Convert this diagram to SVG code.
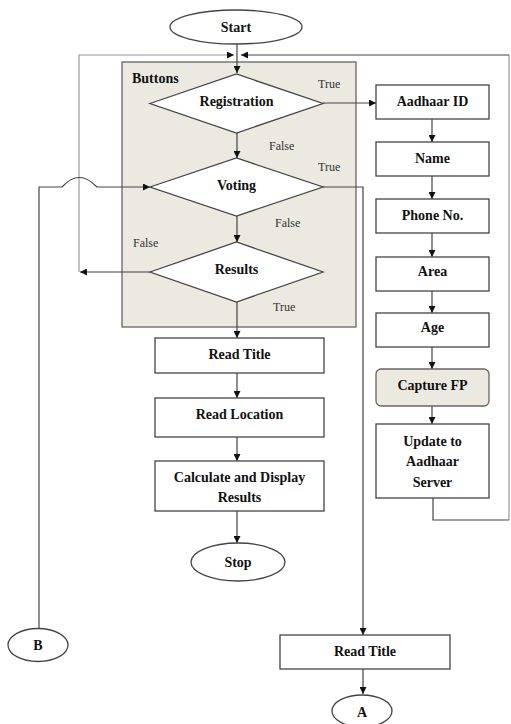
<svg xmlns="http://www.w3.org/2000/svg" width="511" height="724" viewBox="0 0 511 724">
<defs>
<marker id="ah" viewBox="0 0 10 10" refX="10" refY="5" markerWidth="7" markerHeight="7" orient="auto" markerUnits="userSpaceOnUse">
<path d="M0,0 L10,5 L0,10 Z" fill="#111"/>
</marker>
</defs>
<style>
.n{fill:#fff;stroke:#444;stroke-width:1.3}
.g{fill:#ece9e0;stroke:#666;stroke-width:1.3}
.t{font-family:'Liberation Serif','Times New Roman','DejaVu Serif',serif;font-weight:bold;font-size:14px;fill:#111;text-anchor:middle}
.l{font-family:'Liberation Serif','Times New Roman','DejaVu Serif',serif;font-size:12px;fill:#333}
.c{fill:none;stroke:#444;stroke-width:1.2}
.c2{fill:none;stroke:#999;stroke-width:1.2}
</style>
<rect width="511" height="724" fill="#fff"/>
<g id="buttons-box">
<rect x="122" y="62" width="234" height="265" class="g"/>
<text x="132" y="83" class="t" style="text-anchor:start">Buttons</text>
</g>
<g id="connectors">
<line x1="237" y1="44" x2="237" y2="73" class="c" marker-end="url(#ah)"/>
<polyline points="79,272 79,55 234,55" class="c2" marker-end="url(#ah)"/>
<polyline points="509,520 509,55" class="c2"/>
<line x1="509" y1="55" x2="241" y2="55" class="c" marker-end="url(#ah)"/>
<line x1="150" y1="272" x2="80" y2="272" class="c" marker-end="url(#ah)"/>
<line x1="237" y1="133" x2="237" y2="158" class="c" marker-end="url(#ah)"/>
<line x1="237" y1="216" x2="237" y2="242" class="c" marker-end="url(#ah)"/>
<line x1="237" y1="302" x2="237" y2="338" class="c" marker-end="url(#ah)"/>
<line x1="237" y1="373" x2="237" y2="398" class="c" marker-end="url(#ah)"/>
<line x1="237" y1="437" x2="237" y2="461" class="c" marker-end="url(#ah)"/>
<line x1="237" y1="511" x2="237" y2="543" class="c" marker-end="url(#ah)"/>
<line x1="323" y1="103" x2="376" y2="103" class="c" marker-end="url(#ah)"/>
<line x1="432" y1="119" x2="432" y2="142" class="c" marker-end="url(#ah)"/>
<line x1="432" y1="176" x2="432" y2="199" class="c" marker-end="url(#ah)"/>
<line x1="432" y1="233" x2="432" y2="257" class="c" marker-end="url(#ah)"/>
<line x1="432" y1="291" x2="432" y2="313" class="c" marker-end="url(#ah)"/>
<line x1="432" y1="347" x2="432" y2="369" class="c" marker-end="url(#ah)"/>
<line x1="432" y1="406" x2="432" y2="424" class="c" marker-end="url(#ah)"/>
<polyline points="433,498 433,520 509,520" class="c"/>
<polyline points="323,187 363,187 363,635" class="c" marker-end="url(#ah)"/>
<line x1="363" y1="669" x2="363" y2="694" class="c" marker-end="url(#ah)"/>
<path d="M39,628 L39,187 L62,187 Q79,168 97,187 L150,187" class="c" marker-end="url(#ah)"/>
</g>
<g id="start"><ellipse cx="236" cy="27" rx="66" ry="17" class="n"/><text x="236" y="32" class="t">Start</text></g>
<g id="registration"><polygon points="150,103.5 236.5,74 323,103.5 236.5,133" class="n"/><text x="236.5" y="106" class="t">Registration</text></g>
<g id="voting"><polygon points="150,187 236.5,158 323,187 236.5,216" class="n"/><text x="236.5" y="190" class="t">Voting</text></g>
<g id="results"><polygon points="150,272 236.5,242 323,272 236.5,302" class="n"/><text x="236.5" y="274" class="t">Results</text></g>
<g id="labels">
<text x="318" y="88" class="l">True</text>
<text x="269" y="150" class="l">False</text>
<text x="318" y="171" class="l">True</text>
<text x="275" y="227" class="l">False</text>
<text x="133" y="247" class="l">False</text>
<text x="273" y="311" class="l">True</text>
</g>
<g id="aadhaar-id"><rect x="376" y="85" width="113" height="34" class="n"/><text x="432.5" y="106" class="t">Aadhaar ID</text></g>
<g id="name"><rect x="376" y="142" width="113" height="34" class="n"/><text x="432.5" y="163" class="t">Name</text></g>
<g id="phone"><rect x="376" y="199" width="113" height="34" class="n"/><text x="432.5" y="220" class="t">Phone No.</text></g>
<g id="area"><rect x="376" y="257" width="113" height="34" class="n"/><text x="432.5" y="276" class="t">Area</text></g>
<g id="age"><rect x="376" y="313" width="113" height="34" class="n"/><text x="432.5" y="332" class="t">Age</text></g>
<g id="capture-fp"><rect x="376" y="369" width="113" height="37" rx="5" class="g"/><text x="432.5" y="390" class="t">Capture FP</text></g>
<g id="update"><rect x="376" y="424" width="113" height="74" class="n"/><text x="432.5" y="446" class="t">Update to</text><text x="432.5" y="466" class="t">Aadhaar</text><text x="432.5" y="487" class="t">Server</text></g>
<g id="read-title-1"><rect x="155" y="338" width="169" height="35" class="n"/><text x="239.5" y="359" class="t">Read Title</text></g>
<g id="read-location"><rect x="155" y="398" width="169" height="39" class="n"/><text x="239.5" y="419" class="t">Read Location</text></g>
<g id="calculate"><rect x="155" y="461" width="169" height="50" class="n"/><text x="239.5" y="482" class="t">Calculate and Display</text><text x="239.5" y="502" class="t">Results</text></g>
<g id="stop"><ellipse cx="238" cy="562" rx="47" ry="19" class="n"/><text x="238" y="567" class="t">Stop</text></g>
<g id="b"><ellipse cx="38" cy="645" rx="30" ry="16.5" class="n"/><text x="38" y="650" class="t">B</text></g>
<g id="read-title-2"><rect x="280" y="635" width="170" height="34" class="n"/><text x="365" y="656" class="t">Read Title</text></g>
<g id="a"><ellipse cx="362" cy="711" rx="30" ry="16" class="n"/><text x="362" y="717" class="t">A</text></g>
</svg>
